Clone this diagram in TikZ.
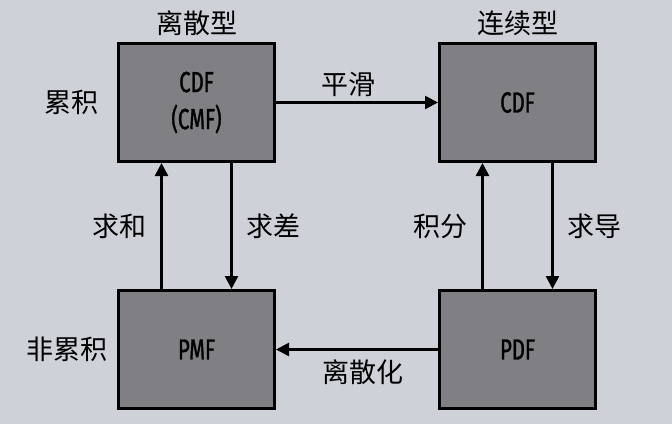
\documentclass[tikz,border=0pt]{standalone}
\usepackage{fontspec}
\setmainfont{Fira Sans}
\newfontfamily\cjk{Noto Sans CJK SC}
\newfontfamily\boxfont[FakeStretch=0.7,FakeBold=1.2]{Fira Sans}
\usetikzlibrary{positioning,arrows.meta}

\definecolor{pagebg}{RGB}{206,210,216}
\definecolor{boxgray}{RGB}{128,128,132}

\tikzset{
  box/.style={draw=black, line width=3pt, fill=boxgray, minimum width=156pt,
    minimum height=118pt, align=center, font=\boxfont\fontsize{29}{37}\selectfont},
  lbl/.style={font=\cjk\fontsize{27}{30}\selectfont, inner sep=1pt},
  flow/.style={line width=2.5pt, -{Triangle[length=13pt,width=13pt]}},
}

\begin{document}
\begin{tikzpicture}[x=1pt,y=1pt]
    \fill [pagebg] (0,0) rectangle (672,424);
    \useasboundingbox (0,0) rectangle (672,424);
    \node [box] (cmf) at (196.5,321.5) {CDF\\(CMF)};
    \node [box] [right=162pt of cmf] (cdf) {CDF};
    \node [box] [below=126pt of cmf] (pmf) {PMF};
    \node [box] [right=162pt of pmf] (pdf) {PDF};
    % side labels
    \node [lbl] [above=5pt of cmf] (discrete) {离散型};
    \node [lbl] [above=5pt of cdf] (continuous) {连续型};
    \node [lbl] [left=17pt of cmf] (cum) {累积};
    \node [lbl] [left=8pt of pmf] (noncum) {非累积};
      \path[flow]
      (cmf) edge node [lbl, above=4pt, pos=0.45] {平滑} (cdf)
      (pdf) edge node [lbl, below=8pt, pos=0.46] {离散化} (pmf)
      ([xshift=-35pt]pmf.north) edge node [lbl, left=13pt] {求和} ([xshift=-35pt]cmf.south)
      ([xshift=35pt]cmf.south) edge node [lbl, right=13pt] {求差} ([xshift=35pt]pmf.north)
      ([xshift=-35pt]pdf.north) edge node [lbl, left=13pt] {积分} ([xshift=-35pt]cdf.south)
      ([xshift=35pt]cdf.south) edge node [lbl, right=13pt] {求导} ([xshift=35pt]pdf.north)
      ;
  \end{tikzpicture}
\end{document}
